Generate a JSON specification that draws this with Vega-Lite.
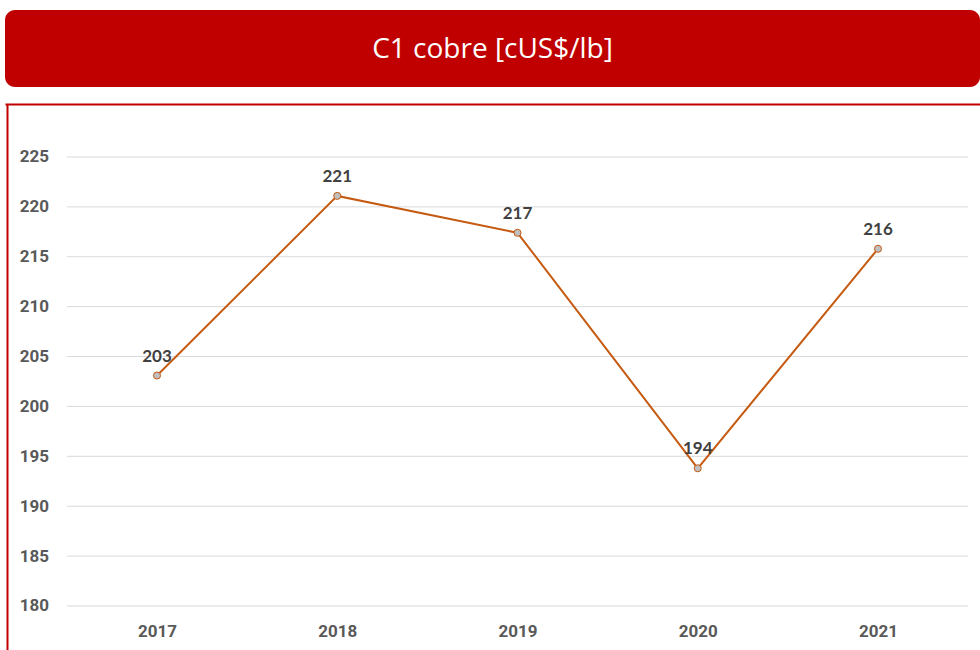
{
  "$schema": "https://vega.github.io/schema/vega-lite/v6.json",
  "padding": {"left": 5, "top": 10, "right": 0, "bottom": 0},
  "background": "white",
  "spacing": 17,
  "config": {"view": {"stroke": null}},
  "datasets": {
    "c1": [
      {"year": 2017, "value": 203.1},
      {"year": 2018, "value": 221.1},
      {"year": 2019, "value": 217.4},
      {"year": 2020, "value": 193.8},
      {"year": 2021, "value": 215.8}
    ],
    "grid": [
      {"value": 180}, {"value": 185}, {"value": 190}, {"value": 195}, {"value": 200},
      {"value": 205}, {"value": 210}, {"value": 215}, {"value": 220}, {"value": 225}
    ],
    "header": [{"t": "C1 cobre [cUS$/lb]"}]
  },
  "vconcat": [
    {
      "width": 975,
      "height": 77,
      "view": {"fill": "#C00000", "cornerRadius": 10, "stroke": null},
      "data": {"name": "header"},
      "mark": {"type": "text", "font": "Open Sans", "fontSize": 28, "color": "white", "baseline": "middle", "align": "center", "dy": 1},
      "encoding": {"text": {"field": "t", "type": "nominal"}}
    },
    {
      "width": 975,
      "height": 546,
      "resolve": {"axis": {"x": "independent"}},
      "layer": [
        {
          "data": {"name": "grid"},
          "mark": {"type": "rule", "color": "#D9D9D9", "strokeWidth": 1},
          "encoding": {
            "x": {"datum": 2016.5, "type": "quantitative", "scale": {"domain": [2016.1567, 2021.5659], "nice": false, "zero": false}, "axis": null},
            "x2": {"datum": 2021.5},
            "y": {
              "field": "value", "type": "quantitative",
              "scale": {"domain": [175.59, 230.31], "nice": false, "zero": false},
              "axis": {
                "title": null, "values": [180, 185, 190, 195, 200, 205, 210, 215, 220, 225],
                "grid": false, "ticks": false, "domain": true, "domainColor": "#C00000", "domainWidth": 2,
                "offset": -2, "labelPadding": -41.5, "labelAlign": "right",
                "labelFont": "Roboto", "labelFontSize": 17, "labelFontWeight": "bold", "labelColor": "#595959"
              }
            }
          }
        },
        {
          "data": {"name": "c1"},
          "mark": {
            "type": "line", "color": "#C55A11", "strokeWidth": 2,
            "point": {"filled": true, "fill": "#BFBFBF", "stroke": "#C55A11", "strokeWidth": 1, "size": 50}
          },
          "encoding": {
            "x": {
              "field": "year", "type": "quantitative",
              "scale": {"domain": [2016.1567, 2021.5659], "nice": false, "zero": false},
              "axis": {
                "orient": "bottom", "title": null, "values": [2017, 2018, 2019, 2020, 2021], "format": "d",
                "domain": false, "ticks": false, "grid": false, "labelPadding": -19, "labelBaseline": "middle",
                "labelFlush": false, "labelFont": "Roboto", "labelFontSize": 17, "labelFontWeight": "bold", "labelColor": "#595959"
              }
            },
            "y": {"field": "value", "type": "quantitative"}
          }
        },
        {
          "data": {"name": "c1"},
          "mark": {"type": "text", "font": "Lato", "fontSize": 17, "fontWeight": "bold", "color": "#404040", "dy": -19, "baseline": "middle"},
          "encoding": {
            "x": {
              "field": "year", "type": "quantitative",
              "scale": {"domain": [2016.1567, 2021.5659], "nice": false, "zero": false},
              "axis": {
                "orient": "top", "title": null, "labels": false, "ticks": false, "grid": false,
                "domain": true, "domainColor": "#C00000", "domainWidth": 2
              }
            },
            "y": {"field": "value", "type": "quantitative"},
            "text": {"field": "value", "type": "quantitative", "format": ".0f"}
          }
        }
      ]
    }
  ]
}
